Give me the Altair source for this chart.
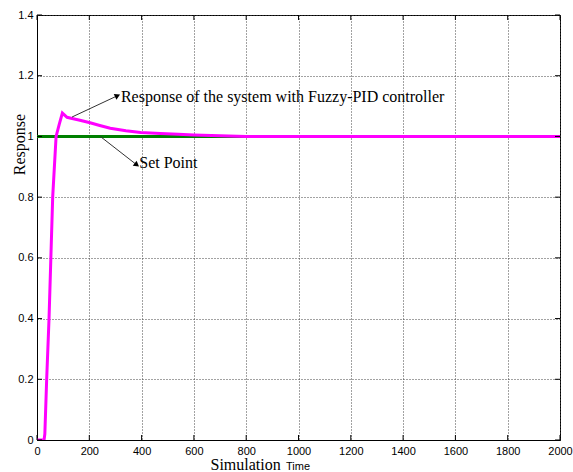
import altair as alt
import pandas as pd
import math

# ---- data ----
time_vals = [0, 27, 30, 37, 46, 53, 60, 73, 85, 97, 115, 130, 160, 203, 240, 280,
             340, 396, 472, 540, 600, 700, 800, 1000, 1500, 2000]
response_vals = [0, 0, 0.02, 0.2, 0.4, 0.6, 0.8, 1.0, 1.04, 1.077, 1.063, 1.060, 1.054,
                 1.045, 1.036, 1.027, 1.019, 1.013, 1.010, 1.007, 1.005, 1.002, 1.0,
                 1.0, 1.0, 1.0]
setpoint_time = [0, 2000]
setpoint_vals = [1.0, 1.0]

x_ticks = [0, 200, 400, 600, 800, 1000, 1200, 1400, 1600, 1800, 2000]
y_ticks = [0, 0.2, 0.4, 0.6, 0.8, 1.0, 1.2, 1.4]

# annotations (data coordinates)
ann_text = ["Response of the system with Fuzzy-PID controller", "Set Point"]
ann_x0 = [134, 242]
ann_y0 = [1.064, 1.0]
ann_x1 = [305, 379]
ann_y1 = [1.133, 0.908]
ann_tx = [321, 391]
ann_ty = [1.130, 0.914]

W, H = 523, 425
XMAX, YMAX = 2000, 1.4

resp_df = pd.DataFrame({"t": time_vals, "r": response_vals})
sp_df = pd.DataFrame({"t": setpoint_time, "r": setpoint_vals})

angles = []
for i in range(len(ann_text)):
    dx = (ann_x1[i] - ann_x0[i]) / XMAX * W
    dy = -(ann_y1[i] - ann_y0[i]) / YMAX * H
    a = math.degrees(math.atan2(dx, -dy)) % 360
    angles.append(a)

ann_df = pd.DataFrame({"text": ann_text, "x0": ann_x0, "y0": ann_y0, "x1": ann_x1,
                       "y1": ann_y1, "tx": ann_tx, "ty": ann_ty, "angle": angles})
xt_df = pd.DataFrame({"v": x_ticks})
yt_df = pd.DataFrame({"v": y_ticks})

xscale = alt.Scale(domain=[0, XMAX], nice=False, zero=False)
yscale = alt.Scale(domain=[0, YMAX], nice=False)

xaxis = alt.Axis(values=x_ticks, grid=True, gridColor="#444", gridDash=[1, 2], gridWidth=1,
                 tickSize=0, labelPadding=5, labelFont="Liberation Sans", labelFontSize=11,
                 labelColor="black", domainColor="black", format="d", title="Simulation",
                 titleFont="Liberation Serif", titleFontSize=16, titleFontWeight="normal",
                 titleColor="black", titleAlign="left", titleBaseline="alphabetic",
                 titleX=173, titleY=29, labelFlush=False)
yaxis = alt.Axis(values=y_ticks, grid=True, gridColor="#444", gridDash=[1, 2], gridWidth=1,
                 tickSize=0, labelPadding=4, labelFont="Liberation Sans", labelFontSize=11,
                 labelColor="black", domainColor="black", format=".1~f", title="Response",
                 titleFont="Liberation Serif", titleFontSize=16, titleFontWeight="normal",
                 titleColor="black", titleAngle=270, titleAlign="center",
                 titleBaseline="middle", titleX=-18, titleY=129, labelFlush=False)

base_sp = alt.Chart(sp_df).mark_line(color="#008000", strokeWidth=3, clip=True).encode(
    x=alt.X("t:Q", scale=xscale, axis=xaxis),
    y=alt.Y("r:Q", scale=yscale, axis=yaxis),
)
resp_line = alt.Chart(resp_df).mark_line(color="#FF00FF", strokeWidth=3, clip=True).encode(
    x=alt.X("t:Q", scale=xscale),
    y=alt.Y("r:Q", scale=yscale),
)

# inward ticks (MATLAB style)
tick_bottom = alt.Chart(xt_df).mark_rule(color="black", strokeWidth=1).encode(
    x=alt.X("v:Q", scale=xscale), y=alt.value(H), y2=alt.value(H - 5))
tick_top = alt.Chart(xt_df).mark_rule(color="black", strokeWidth=1).encode(
    x=alt.X("v:Q", scale=xscale), y=alt.value(0), y2=alt.value(5))
tick_left = alt.Chart(yt_df).mark_rule(color="black", strokeWidth=1).encode(
    y=alt.Y("v:Q", scale=yscale), x=alt.value(0), x2=alt.value(5))
tick_right = alt.Chart(yt_df).mark_rule(color="black", strokeWidth=1).encode(
    y=alt.Y("v:Q", scale=yscale), x=alt.value(W), x2=alt.value(W - 5))

arrow_lines = alt.Chart(ann_df).mark_rule(color="#333", strokeWidth=1).encode(
    x=alt.X("x0:Q", scale=xscale), y=alt.Y("y0:Q", scale=yscale),
    x2="x1:Q", y2="y1:Q")
arrow_heads = alt.Chart(ann_df).mark_point(shape="triangle", filled=True, color="black",
                                           size=40, opacity=1).encode(
    x=alt.X("x1:Q", scale=xscale), y=alt.Y("y1:Q", scale=yscale),
    angle=alt.Angle("angle:Q", scale=None))
ann_texts = alt.Chart(ann_df).mark_text(align="left", baseline="middle",
                                        font="Liberation Serif", fontSize=16,
                                        color="black").encode(
    x=alt.X("tx:Q", scale=xscale), y=alt.Y("ty:Q", scale=yscale), text="text:N")

time_label = alt.Chart(pd.DataFrame({"s": ["Time"]})).mark_text(
    align="left", baseline="alphabetic", font="Liberation Sans", fontSize=11,
    color="black").encode(x=alt.value(249), y=alt.value(455), text="s:N")

chart = alt.layer(
    base_sp, resp_line, tick_bottom, tick_top, tick_left, tick_right,
    arrow_lines, arrow_heads, ann_texts, time_label
).properties(
    width=W, height=H,
    autosize=alt.AutoSizeParams(type="none"),
    padding={"left": 37, "top": 15, "right": 13, "bottom": 32},
    background="white",
).configure_view(stroke="black", strokeWidth=1)

chart.save("out.html", embed_options={"renderer": "svg", "actions": False})
